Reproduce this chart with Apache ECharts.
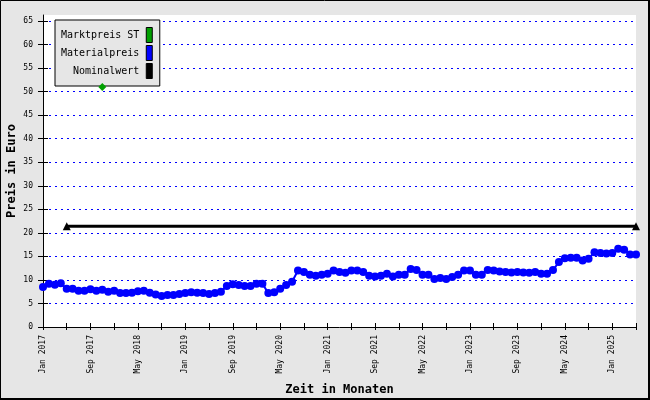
<!DOCTYPE html>
<html>
<head>
<meta charset="utf-8">
<script src="https://cdn.jsdelivr.net/npm/echarts@6/dist/echarts.min.js"></script>
<style>
html,body{margin:0;padding:0;background:#e6e6e6;}
#chart{width:650px;height:400px;}
</style>
</head>
<body>
<div id="chart"></div>
<script>
// ---- data ----
const monthNames = ['Jan','Feb','Mar','Apr','May','Jun','Jul','Aug','Sep','Oct','Nov','Dec'];
const startYear = 2017;
const monthCount = 101; // Jan 2017 .. May 2025
const months = [];
for (let i = 0; i < monthCount; i++) {
  months.push(monthNames[i % 12] + ' ' + (startYear + Math.floor(i / 12)));
}

const materialpreis = [
  8.5, 9.2, 9.0, 9.3, 8.1, 8.1, 7.7, 7.7, 8.0, 7.7,
  7.9, 7.5, 7.7, 7.2, 7.2, 7.3, 7.6, 7.7, 7.3, 6.9,
  6.6, 6.8, 6.8, 7.0, 7.2, 7.4, 7.3, 7.2, 7.0, 7.2,
  7.5, 8.7, 9.1, 8.9, 8.7, 8.7, 9.2, 9.2, 7.2, 7.4,
  8.1, 8.9, 9.6, 12.0, 11.7, 11.1, 10.9, 11.1, 11.3, 12.0,
  11.7, 11.5, 12.0, 12.0, 11.7, 10.9, 10.7, 10.9, 11.3, 10.7,
  11.1, 11.1, 12.3, 12.1, 11.1, 11.1, 10.2, 10.4, 10.2, 10.6,
  11.1, 12.0, 12.0, 11.1, 11.1, 12.1, 12.0, 11.8, 11.7, 11.6,
  11.7, 11.6, 11.5, 11.7, 11.3, 11.3, 12.1, 13.8, 14.6, 14.7,
  14.7, 14.1, 14.5, 15.9, 15.7, 15.6, 15.7, 16.6, 16.4, 15.4,
  15.4
];

// Marktpreis ST: single observation
const marktpreisMonth = ['Nov 2017'];
const marktpreisValue = [51];

// Nominalwert: constant line between two months
const nominalMonths = ['May 2017', 'May 2025'];
const nominalValues = [21.4, 21.4];

const yTicks = [0,5,10,15,20,25,30,35,40,45,50,55,60,65];
const yMax = 66.27;

const seriesNames = ['Marktpreis ST', 'Materialpreis', 'Nominalwert'];
const seriesColors = ['#00a000', '#0000ff', '#000000'];

// ---- build ----
const markt = months.map(m => { const k = marktpreisMonth.indexOf(m); return k >= 0 ? marktpreisValue[k] : null; });
const nominal = months.map(m => { const k = nominalMonths.indexOf(m); return k >= 0 ? nominalValues[k] : null; });

const mono = 'DejaVu Sans Mono';
const chart = echarts.init(document.getElementById('chart'), null, {renderer: 'canvas'});

const gridLeft = 43, gridRight = 14, gridTop = 15, gridBottom = 73;
const plotW = 650 - gridLeft - gridRight;
const plotH = 400 - gridTop - gridBottom;

chart.setOption({
  backgroundColor: '#e6e6e6',
  animation: false,
  graphic: [
    {type: 'rect', shape: {x: 0.5, y: 0.5, width: 648, height: 398}, style: {fill: 'none', stroke: '#000', lineWidth: 1}, z: 100},
    {type: 'line', shape: {x1: 649, y1: 0, x2: 649, y2: 400}, style: {stroke: '#000', lineWidth: 2}, z: 100},
    {type: 'line', shape: {x1: 0, y1: 399, x2: 650, y2: 399}, style: {stroke: '#000', lineWidth: 2}, z: 100}
  ],
  grid: {
    left: gridLeft, right: gridRight, top: gridTop, bottom: gridBottom,
    containLabel: false, outerBoundsMode: 'none',
    show: true, backgroundColor: '#ffffff', borderWidth: 0
  },
  legend: {
    orient: 'vertical',
    left: 55, top: 20,
    data: seriesNames,
    align: 'right',
    icon: 'rect',
    itemWidth: 6, itemHeight: 15, itemGap: 2,
    padding: [7, 7, 7, 6],
    backgroundColor: '#e6e6e6',
    borderColor: '#000', borderWidth: 1,
    itemStyle: {borderColor: '#000', borderWidth: 1},
    textStyle: {fontFamily: mono, fontSize: 10, color: '#000', width: 78, align: 'right', padding: [0, 2, 0, 0]},
    selectedMode: false
  },
  xAxis: [{
    type: 'category', data: months, boundaryGap: false,
    name: 'Zeit in Monaten', nameLocation: 'middle', nameGap: 57,
    nameTextStyle: {fontFamily: mono, fontSize: 12, fontWeight: 'bold', color: '#000'},
    axisLine: {lineStyle: {color: '#000', width: 1}},
    axisTick: {show: true, interval: 3, length: 3, lineStyle: {color: '#000'}},
    axisLabel: {interval: 7, rotate: 90, fontFamily: mono, fontSize: 8, color: '#000', margin: 8},
    splitLine: {show: false}
  }, {
    type: 'category', data: months, boundaryGap: false, position: 'top', offset: -plotH,
    axisLine: {show: false},
    axisTick: {show: true, interval: 3, length: 4, inside: false, lineStyle: {color: '#000'}},
    axisLabel: {show: false}, splitLine: {show: false}
  }],
  yAxis: [{
    type: 'value', min: 0, max: yMax, interval: 5,
    name: 'Preis in Euro', nameLocation: 'middle', nameGap: 25, nameMoveOverlap: false,
    nameTextStyle: {fontFamily: mono, fontSize: 12, fontWeight: 'bold', color: '#000'},
    axisLine: {show: true, lineStyle: {color: '#000', width: 1}},
    axisTick: {show: true, length: 5, lineStyle: {color: '#000'}, customValues: yTicks},
    axisLabel: {fontFamily: mono, fontSize: 8, color: '#000', margin: 10, customValues: yTicks},
    splitLine: {show: true, lineStyle: {color: '#0000ff', type: [2, 4], width: 1}}
  }, {
    type: 'value', min: 0, max: yMax, interval: 5, position: 'right', offset: -plotW,
    axisLine: {show: false},
    axisTick: {show: true, length: 5, inside: false, lineStyle: {color: '#000'}, customValues: yTicks},
    axisLabel: {show: false}, splitLine: {show: false}
  }],
  series: [{
    name: seriesNames[0], type: 'line', data: markt,
    symbol: 'diamond', symbolSize: 8, showSymbol: true, showAllSymbol: true,
    itemStyle: {color: seriesColors[0]}, lineStyle: {width: 0}, z: 5
  }, {
    name: seriesNames[1], type: 'line', data: materialpreis,
    symbol: 'circle', symbolSize: 8, showSymbol: true, showAllSymbol: true,
    itemStyle: {color: seriesColors[1]}, lineStyle: {color: seriesColors[1], width: 2}, z: 4
  }, {
    name: seriesNames[2], type: 'line', data: nominal, connectNulls: true,
    symbol: 'triangle', symbolSize: 8, showSymbol: true, showAllSymbol: true,
    itemStyle: {color: seriesColors[2]}, lineStyle: {color: seriesColors[2], width: 3}, z: 3
  }]
});
</script>
</body>
</html>
